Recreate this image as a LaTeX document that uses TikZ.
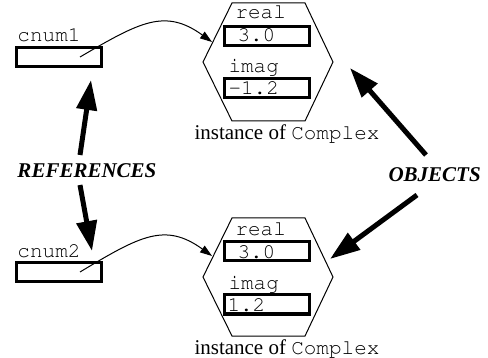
\documentclass[tikz,border=0pt]{standalone}
\usepackage[T1]{fontenc}
\usepackage{fontspec}
\setmainfont{Liberation Serif}
\usetikzlibrary{arrows.meta}
\newcommand{\cour}{\fontencoding{T1}\fontfamily{pcr}\selectfont}

\begin{document}
\begin{tikzpicture}[x=0.5pt,y=-0.5pt,line width=0.5pt,
  every node/.style={inner sep=0pt,font=\fontsize{10.5}{12}\selectfont},
  code/.style={anchor=base west,font=\fontsize{10.5}{12}\selectfont\cour},
  field/.style={draw,line width=1.5pt,minimum width=42.5pt,minimum height=9.5pt},
  tag/.style={anchor=base west,font=\fontsize{10.5}{12}\selectfont\bfseries\itshape},
  ptr/.style={-{Triangle[length=6pt,width=4pt]}},
  fat/.style={line width=2.5pt,-{Triangle[length=15pt,width=10pt]}}]
\useasboundingbox (0,0) rectangle (488,358);
% the two variables
\node[code] (n1) at (17,42) {cnum1};
\node[field] (c1) at (59,57) {};
\node[code] (n2) at (17,257) {cnum2};
\node[field] (c2) at (59,272) {};
% first object
\draw (232,3)--(305,3)--(333,62)--(305,121)--(232,121)--(203,62)--cycle;
\node[code] (re1) at (235,19) {real};
\node[field] (rb1) at (266.5,36) {};
\node[code] (rv1) at (237,42) {3.0};
\node[code] (im1) at (228,73) {imag};
\node[field] (ib1) at (266.5,88) {};
\node[code] (iv1) at (228,95) {-1.2};
\node[anchor=base west] (k1) at (194,140) {instance of {\cour Complex}};
\coordinate (t1) at (212,42);
% second object
\draw (232,218)--(305,218)--(333,277)--(305,336)--(232,336)--(203,277)--cycle;
\node[code] (re2) at (235,235) {real};
\node[field] (rb2) at (266.5,251) {};
\node[code] (rv2) at (237,258) {3.0};
\node[code] (im2) at (228,290) {imag};
\node[field] (ib2) at (266.5,304.5) {};
\node[code] (iv2) at (227,312) {1.2};
\node[anchor=base west] (k2) at (194,355) {instance of {\cour Complex}};
\coordinate (t2) at (212,256);
% references
\draw[ptr] ([xshift=10.5pt]c1.center) .. controls (140,22) and (165,8) .. (t1);
\draw[ptr] ([xshift=10.5pt]c2.center) .. controls (140,236) and (165,222) .. (t2);
% captions
\node[tag] (refs) at (17,177) {REFERENCES};
\node[tag] (objs) at (388,182) {OBJECTS};
\coordinate (ra) at (91,80);
\coordinate (rb) at (92,251);
\coordinate (oa) at (350,68);
\coordinate (ob) at (330,259);
\draw[fat] ([shift={(63,-22)}]refs.base west)--(ra);
\draw[fat] ([shift={(63,8)}]refs.base west)--(rb);
\draw[fat] ([shift={(38,-27)}]objs.base west)--(oa);
\draw[fat] ([shift={(29,13)}]objs.base west)--(ob);
\end{tikzpicture}
\end{document}
